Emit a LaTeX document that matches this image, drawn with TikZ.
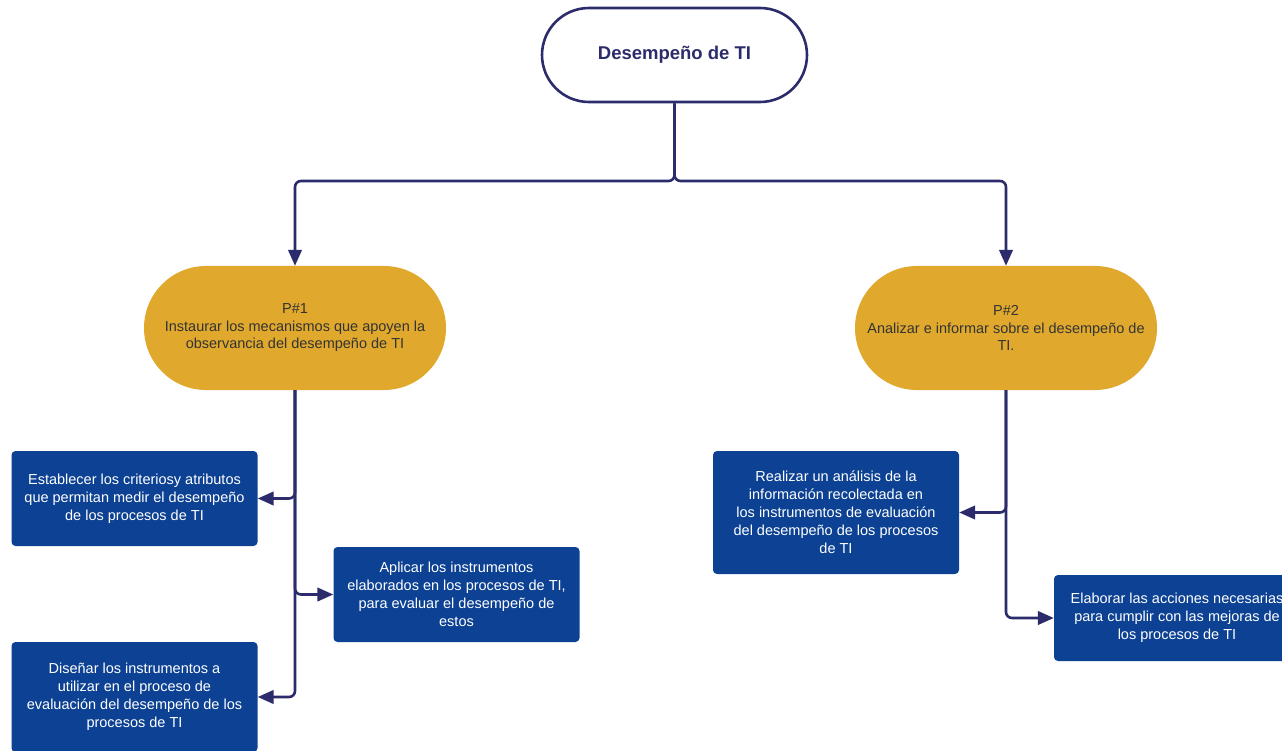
\documentclass[tikz,border=0pt]{standalone}
\usepackage{fontspec}
\setmainfont{Liberation Sans}
\usetikzlibrary{arrows.meta}
\definecolor{navy}{HTML}{2C2C6C}
\definecolor{gold}{HTML}{E0A92D}
\definecolor{boxblue}{HTML}{0C4193}
\definecolor{darktext}{HTML}{333333}
\begin{document}
\begin{tikzpicture}[x=1pt,y=-1pt,
  topbox/.style={draw=navy, line width=2.6pt, fill=white, rounded corners=47pt,
    minimum width=265pt, minimum height=94pt, inner sep=0pt,
    font=\fontsize{18.5}{22}\selectfont\bfseries, text=navy},
  goldbox/.style={fill=gold, rounded corners=62pt, minimum width=302pt, minimum height=124pt,
    inner sep=0pt, align=center, text=darktext, font=\fontsize{14.5}{17.5}\selectfont},
  bluebox/.style={fill=boxblue, rounded corners=4pt, minimum width=246pt, inner sep=0pt,
    align=center, text=white, font=\fontsize{14.5}{18}\selectfont},
  conn/.style={draw=navy, line width=2.6pt, rounded corners=6pt,
    -{Triangle[length=16pt,width=13.5pt]}}
]
\useasboundingbox[fill=white] (0,0) rectangle (1282,751);

\node[topbox] (top) at (674.5,55) {Desempeño de TI};

\node[goldbox] (p1) at (295,328) {P\#1\\Instaurar los mecanismos que apoyen la\\observancia del desempeño de TI};
\node[goldbox] (p2) at (1006,328) {P\#2\\Analizar e informar sobre el desempeño de\\TI.};

\node[bluebox, minimum height=95pt] (a) at (134.5,498.5) {Establecer los criteriosy atributos\\que permitan medir el desempeño\\de los procesos de TI};
\node[bluebox, minimum height=95pt] (b) at (456.5,594.5) {Aplicar los instrumentos\\elaborados en los procesos de TI,\\para evaluar el desempeño de\\estos};
\node[bluebox, minimum height=110pt] (c) at (134.5,697) {Diseñar los instrumentos a\\utilizar en el proceso de\\evaluación del desempeño de los\\procesos de TI};
\node[bluebox, minimum height=123pt] (d) at (836,512.5) {Realizar un análisis de la\\información recolectada en\\los instrumentos de evaluación\\del desempeño de los procesos\\de TI};
\node[bluebox, minimum height=86pt] (e) at (1177,618) {Elaborar las acciones necesarias\\para cumplir con las mejoras de\\los procesos de TI};

\draw[conn] (top.south) -- (top.south |- 0,181) -| (p1.north);
\draw[conn] (top.south) -- (top.south |- 0,181) -| (p2.north);

\draw[conn] (p1.south) |- (a.east);
\draw[conn] (p1.south) |- (b.west);
\draw[conn] (p1.south) |- (c.east);

\draw[conn] (p2.south) |- (d.east);
\draw[conn] (p2.south) |- (e.west);
\end{tikzpicture}
\end{document}
